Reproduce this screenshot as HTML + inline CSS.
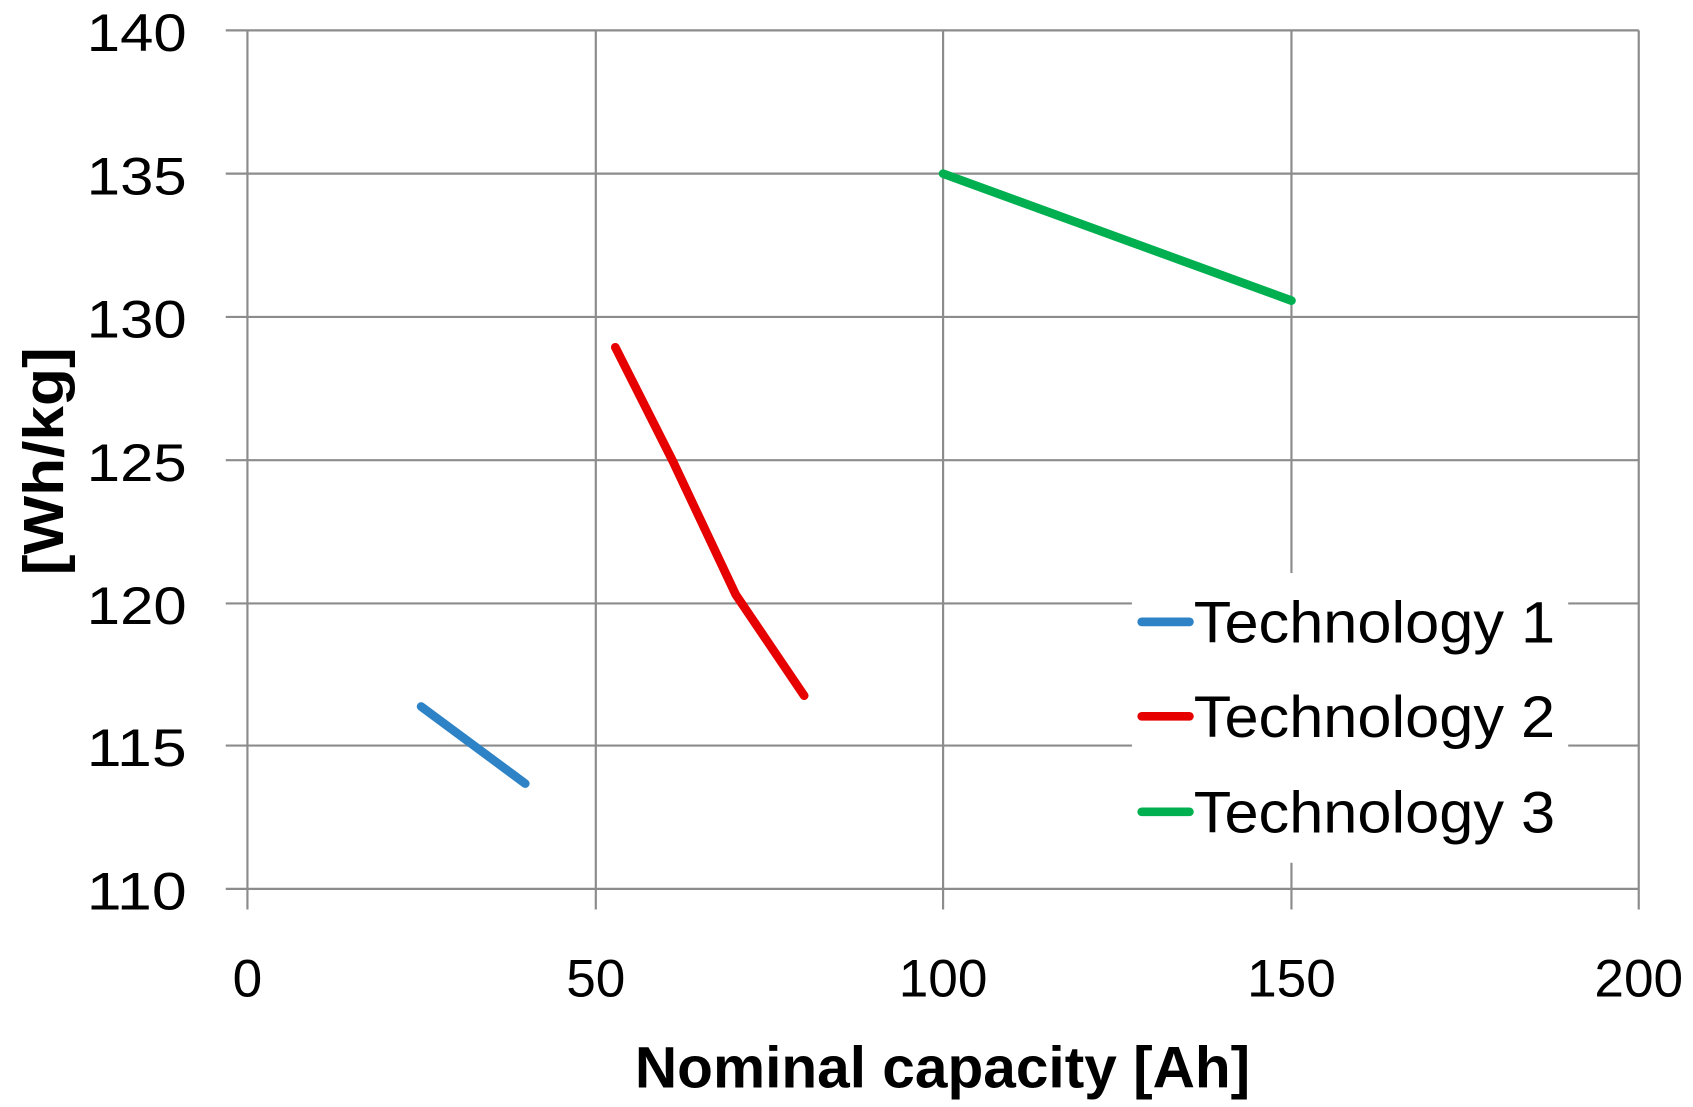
<!DOCTYPE html>
<html><head><meta charset="utf-8"><style>
html,body{margin:0;padding:0;background:#fff;}
svg{display:block;}
text{font-family:"Liberation Sans",sans-serif;fill:#000;}
</style></head><body>
<svg width="1693" height="1107" viewBox="0 0 1560 1020" preserveAspectRatio="none">
<rect width="1560" height="1020" fill="#fff"/>
<g stroke="#8c8c8c" stroke-width="2" fill="none">
<line x1="208" y1="28" x2="1510" y2="28"/>
<line x1="208" y1="160" x2="1510" y2="160"/>
<line x1="208" y1="292" x2="1510" y2="292"/>
<line x1="208" y1="424" x2="1510" y2="424"/>
<line x1="208" y1="556" x2="1510" y2="556"/>
<line x1="208" y1="687" x2="1510" y2="687"/>
<line x1="208" y1="819" x2="1510" y2="819"/>
<line x1="228" y1="28" x2="228" y2="838"/>
<line x1="549" y1="28" x2="549" y2="838"/>
<line x1="869" y1="28" x2="869" y2="838"/>
<line x1="1190" y1="28" x2="1190" y2="838"/>
<line x1="1510" y1="28" x2="1510" y2="838"/>
</g>
<g font-size="49" text-anchor="end">
<text x="172" y="47" textLength="92" lengthAdjust="spacingAndGlyphs">140</text>
<text x="172" y="179" textLength="92" lengthAdjust="spacingAndGlyphs">135</text>
<text x="172" y="311" textLength="92" lengthAdjust="spacingAndGlyphs">130</text>
<text x="172" y="443" textLength="92" lengthAdjust="spacingAndGlyphs">125</text>
<text x="172" y="575" textLength="92" lengthAdjust="spacingAndGlyphs">120</text>
<text x="172" y="706" textLength="92" lengthAdjust="spacingAndGlyphs">115</text>
<text x="172" y="838" textLength="92" lengthAdjust="spacingAndGlyphs">110</text>
</g>
<g font-size="49" text-anchor="middle">
<text x="228" y="918">0</text>
<text x="549" y="918">50</text>
<text x="869" y="918">100</text>
<text x="1190" y="918">150</text>
<text x="1510" y="918">200</text>
</g>
<text x="585" y="1002" font-size="54" font-weight="bold" textLength="567" lengthAdjust="spacingAndGlyphs">Nominal capacity [Ah]</text>
<text transform="translate(58,425) rotate(-90)" text-anchor="middle" font-size="52" font-weight="bold" textLength="210" lengthAdjust="spacingAndGlyphs">[Wh/kg]</text>
<g fill="none" stroke-width="8" stroke-linecap="round" stroke-linejoin="round">
<polyline stroke="#2e83c6" points="388,651 484,722"/>
<polyline stroke="#e60000" points="567,320 620,425 678,548 741,641"/>
<polyline stroke="#00b050" points="869,160 1190,277"/>
</g>
<rect x="1043" y="528" width="402" height="267" fill="#fff"/>
<g stroke-width="8" stroke-linecap="round">
<line x1="1052" y1="573" x2="1096" y2="573" stroke="#2e83c6"/>
<line x1="1052" y1="660" x2="1096" y2="660" stroke="#e60000"/>
<line x1="1052" y1="748" x2="1096" y2="748" stroke="#00b050"/>
</g>
<g font-size="54">
<text x="1100" y="592" textLength="333" lengthAdjust="spacingAndGlyphs">Technology 1</text>
<text x="1100" y="679" textLength="333" lengthAdjust="spacingAndGlyphs">Technology 2</text>
<text x="1100" y="767" textLength="333" lengthAdjust="spacingAndGlyphs">Technology 3</text>
</g>
</svg>
</body></html>
